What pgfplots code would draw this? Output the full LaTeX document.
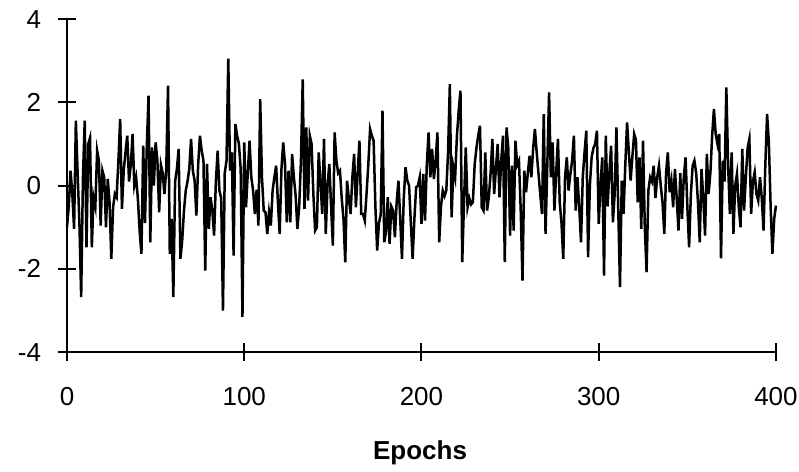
\documentclass[border=0pt]{standalone}
\usepackage{pgfplots}
\pgfplotsset{compat=1.18}
\usepackage{pgfplotstable}
\usepackage{fontspec}
\setmainfont{Liberation Sans}
\pgfplotstableread{
x y
0 -1.0
1 -0.5
2 0.36
3 -0.2
4 -1.04
5 1.56
6 0.3
7 -0.9
8 -2.68
9 0.2
10 1.56
11 -1.48
12 1.0
13 1.15
14 -1.48
15 -0.28
16 -0.5
17 0.84
18 0.6
19 -0.96
20 0.36
21 0.2
22 -1.0
23 0.16
24 -0.4
25 -1.76
26 -0.52
27 -0.2
28 -0.28
29 0.6
30 1.6
31 -0.56
32 0.36
33 0.8
34 1.2
35 0.1
36 0.5
37 1.24
38 0.0
39 0.2
40 -0.32
41 -1.1
42 -1.64
43 0.96
44 -0.9
45 0.9
46 2.16
47 -1.36
48 0.92
49 0.0
50 1.04
51 0.6
52 -0.64
53 0.5
54 0.3
55 -0.2
56 0.4
57 2.4
58 -1.64
59 -0.8
60 -2.68
61 0.1
62 0.4
63 0.88
64 -1.76
65 -1.32
66 -0.6
67 -0.12
68 0.1
69 0.4
70 1.12
71 0.36
72 0.12
73 -0.72
74 0.5
75 1.2
76 0.84
77 0.6
78 -2.04
79 0.52
80 -1.04
81 -0.28
82 -0.6
83 -1.2
84 0.1
85 0.84
86 -0.12
87 -0.3
88 -3.0
89 0.3
90 0.6
91 3.05
92 0.36
93 0.8
94 -1.68
95 1.48
96 1.2
97 1.0
98 0.4
99 -3.15
100 1.04
101 -0.52
102 0.3
103 1.08
104 0.2
105 -0.12
106 -0.68
107 -0.1
108 -0.96
109 2.08
110 0.2
111 -0.6
112 -0.64
113 -1.16
114 -0.64
115 -0.96
116 -0.12
117 0.2
118 0.48
119 -0.4
120 -1.16
121 0.4
122 1.04
123 0.52
124 -0.88
125 0.36
126 -0.88
127 0.76
128 0.2
129 -0.24
130 -1.04
131 -0.5
132 0.6
133 2.55
134 -0.56
135 1.4
136 -0.36
137 1.2
138 1.0
139 -0.2
140 -1.08
141 -1.0
142 0.8
143 0.1
144 -0.68
145 1.12
146 -1.16
147 0.0
148 0.52
149 -0.5
150 -1.44
151 1.28
152 0.6
153 0.3
154 0.36
155 -0.3
156 -0.8
157 -1.84
158 0.12
159 -0.3
160 -0.68
161 0.2
162 0.76
163 -0.52
164 0.3
165 1.08
166 -0.68
167 -0.68
168 -0.84
169 -0.2
170 0.5
171 1.36
172 1.2
173 1.08
174 -0.5
175 -1.56
176 -0.9
177 -0.7
178 1.8
179 -1.36
180 -1.1
181 -0.28
182 -1.4
183 -0.5
184 -0.6
185 -1.24
186 -0.4
187 0.12
188 -0.8
189 -1.76
190 -0.3
191 0.44
192 0.12
193 0.0
194 -0.9
195 -1.76
196 -0.8
197 -0.04
198 0.0
199 0.2
200 -0.92
201 0.28
202 -0.84
203 0.5
204 1.28
205 0.2
206 0.88
207 0.16
208 0.6
209 1.28
210 -1.36
211 -0.5
212 -0.12
213 -0.25
214 -0.12
215 0.8
216 2.44
217 -0.76
218 0.44
219 0.2
220 1.2
221 1.8
222 2.28
223 -1.84
224 -0.4
225 0.92
226 -0.52
227 -0.3
228 -0.45
229 -0.4
230 0.5
231 0.9
232 1.2
233 1.44
234 -0.52
235 -0.6
236 0.8
237 -0.6
238 -0.28
239 0.3
240 1.12
241 -0.2
242 0.4
243 1.0
244 -0.28
245 0.6
246 1.2
247 -1.84
248 1.4
249 0.9
250 -1.2
251 0.48
252 -1.08
253 1.08
254 0.5
255 0.6
256 -0.6
257 -2.28
258 0.36
259 -0.16
260 0.3
261 0.72
262 0.2
263 0.9
264 1.36
265 0.8
266 0.3
267 -0.2
268 -0.68
269 1.72
270 -1.16
271 0.5
272 2.24
273 0.2
274 1.04
275 -0.6
276 0.3
277 1.12
278 -0.4
279 -0.9
280 -1.76
281 0.2
282 0.68
283 -0.12
284 0.28
285 0.6
286 1.2
287 -0.6
288 0.2
289 -0.5
290 -1.36
291 0.2
292 0.8
293 1.32
294 -1.72
295 0.0
296 0.68
297 0.9
298 1.0
299 1.32
300 -0.92
301 0.0
302 0.68
303 -2.16
304 1.2
305 -0.5
306 0.3
307 0.96
308 -0.88
309 -0.2
310 1.4
311 -0.52
312 -2.44
313 0.12
314 -0.68
315 0.5
316 1.52
317 0.8
318 0.12
319 0.7
320 1.24
321 1.1
322 -0.4
323 0.68
324 -1.04
325 1.08
326 -1.0
327 -2.08
328 -0.12
329 0.2
330 0.1
331 0.48
332 -0.3
333 0.2
334 0.48
335 0.0
336 -0.4
337 -1.16
338 0.3
339 0.8
340 -0.16
341 0.12
342 -0.52
343 0.4
344 -0.3
345 -1.08
346 0.3
347 -0.8
348 0.2
349 0.68
350 -0.5
351 -1.48
352 -0.2
353 0.48
354 0.6
355 0.3
356 -0.4
357 -1.36
358 0.4
359 -0.3
360 -1.2
361 0.76
362 -0.2
363 0.3
364 1.2
365 1.84
366 1.24
367 1.0
368 1.24
369 -1.75
370 0.6
371 0.1
372 2.36
373 0.5
374 -0.68
375 0.8
376 -1.16
377 0.0
378 0.28
379 -0.5
380 -1.0
381 0.88
382 -0.6
383 0.2
384 0.9
385 1.12
386 -0.68
387 0.1
388 0.32
389 -0.2
390 -0.36
391 0.2
392 -0.3
393 -1.08
394 0.5
395 1.72
396 1.04
397 -0.5
398 -1.64
399 -0.8
400 -0.48
}\datatable
\begin{document}
\begin{tikzpicture}
\begin{axis}[
  scale only axis,
  width=354.5pt, height=166.5pt,
  xmin=0, xmax=400, ymin=-4, ymax=4,
  axis x line=bottom, axis y line=left,
  axis line style={-, line width=1pt, black},
  xtick={0,100,200,300,400},
  ytick={-4,-2,0,2,4},
  yticklabels={-4,-2,0,2,4},
  xticklabels={0,100,200,300,400},
  tick align=center,
  major tick length=9pt,
  tick style={line width=1pt, black},
  minor tick num=0,
  ticklabel style={font=\fontsize{13}{15}\selectfont, inner sep=0pt},
  xticklabel style={yshift=-12.8pt},
  yticklabel style={xshift=-8.3pt},
  xlabel={\textbf{Epochs}},
  xlabel style={font=\fontsize{13}{15}\selectfont, at={(axis description cs:0.498,0)}, anchor=center, yshift=-50.5pt},
  clip=false,
]
\addplot[black, line width=1.25pt, mark=none] table[x=x, y=y] {\datatable};
\coordinate (bl) at (axis cs:-37.8,-6.83);
\coordinate (tr) at (axis cs:413,4.46);
\end{axis}
\path (bl) rectangle (tr);
\end{tikzpicture}
\end{document}
